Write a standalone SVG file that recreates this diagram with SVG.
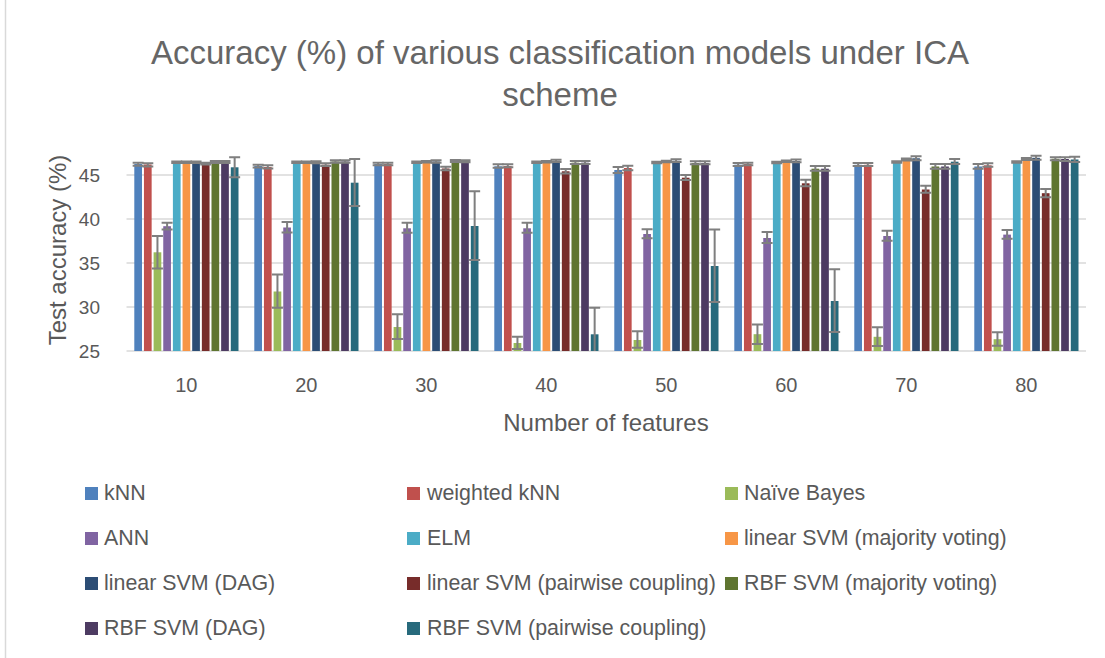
<svg xmlns="http://www.w3.org/2000/svg" width="1105" height="658" viewBox="0 0 1105 658">
  <style>
    text { font-family: "Liberation Sans", Arial, sans-serif; fill: #595959; }
    .title { font-size: 33px; text-anchor: middle; fill: #666666; }
    .tick { font-size: 19px; }
    .ytick { text-anchor: end; }
    .xtick { text-anchor: middle; font-size: 20px; }
    .axis-title { font-size: 24px; text-anchor: middle; }
    .legend { font-size: 21.4px; }
    .grid { stroke: #d9d9d9; stroke-width: 1.5; fill: none; }
    .err { stroke: #7f7f7f; stroke-width: 2; fill: none; }
    .s0 { fill: #4f81bd; }
    .s1 { fill: #c0504d; }
    .s2 { fill: #9bbb59; }
    .s3 { fill: #8064a2; }
    .s4 { fill: #4bacc6; }
    .s5 { fill: #f79646; }
    .s6 { fill: #2c4d75; }
    .s7 { fill: #772c2a; }
    .s8 { fill: #5f7530; }
    .s9 { fill: #4d3b62; }
    .s10 { fill: #276a7c; }
  </style>

  <rect x="0" y="0" width="1105" height="658" fill="#ffffff"/>
  <line x1="5.5" y1="0" x2="5.5" y2="658" stroke="#d9d9d9" stroke-width="1.5"/>

  <!-- chart title -->
  <g id="title">
    <text class="title" x="560" y="64">Accuracy (%) of various classification models under ICA</text>
    <text class="title" x="560" y="106">scheme</text>
  </g>

  <!-- value axis: gridlines and labels (25..45 step 5) -->
  <g id="grid">
    <line class="grid" x1="126.5" y1="175" x2="1086" y2="175"/>
    <line class="grid" x1="126.5" y1="219" x2="1086" y2="219"/>
    <line class="grid" x1="126.5" y1="263" x2="1086" y2="263"/>
    <line class="grid" x1="126.5" y1="307" x2="1086" y2="307"/>
    <line class="grid" x1="126.5" y1="351" x2="1086" y2="351"/>
  </g>
  <g id="y-axis">
    <text class="tick ytick" x="100" y="182">45</text>
    <text class="tick ytick" x="100" y="226">40</text>
    <text class="tick ytick" x="100" y="270">35</text>
    <text class="tick ytick" x="100" y="314">30</text>
    <text class="tick ytick" x="100" y="358">25</text>
    <text class="axis-title" transform="translate(66,250) rotate(-90)">Test accuracy (%)</text>
  </g>

  <!-- category axis -->
  <g id="x-axis">
    <text class="xtick" x="186.3" y="392">10</text>
    <text class="xtick" x="306.3" y="392">20</text>
    <text class="xtick" x="426.3" y="392">30</text>
    <text class="xtick" x="546.3" y="392">40</text>
    <text class="xtick" x="666.3" y="392">50</text>
    <text class="xtick" x="786.3" y="392">60</text>
    <text class="xtick" x="906.3" y="392">70</text>
    <text class="xtick" x="1026.3" y="392">80</text>
    <text class="axis-title" x="606" y="431">Number of features</text>
  </g>

  <!-- clustered bars, one group per feature count; local x is the 10-feature slot -->
  <g id="bars-10">
    <rect class="s0" x="134.3" y="164" width="7.7" height="187"/>
    <rect class="s1" x="143.95" y="164.5" width="7.7" height="186.5"/>
    <rect class="s2" x="153.6" y="252.3" width="7.7" height="98.7"/>
    <rect class="s3" x="163.25" y="226.2" width="7.7" height="124.8"/>
    <rect class="s4" x="172.9" y="162.2" width="7.7" height="188.8"/>
    <rect class="s5" x="182.55" y="162.2" width="7.7" height="188.8"/>
    <rect class="s6" x="192.2" y="162.2" width="7.7" height="188.8"/>
    <rect class="s7" x="201.85" y="163.5" width="7.7" height="187.5"/>
    <rect class="s8" x="211.5" y="162" width="7.7" height="189"/>
    <rect class="s9" x="221.15" y="162" width="7.7" height="189"/>
    <rect class="s10" x="230.8" y="167.3" width="7.7" height="183.7"/>
    <path class="err" d="M138.15 162.8V165.8M132.65 162.8h11M132.65 165.8h11"/>
    <path class="err" d="M147.8 163.3V166.5M142.3 163.3h11M142.3 166.5h11"/>
    <path class="err" d="M157.45 236V268.5M151.95 236h11M151.95 268.5h11"/>
    <path class="err" d="M167.1 222.7V229.5M161.6 222.7h11M161.6 229.5h11"/>
    <path class="err" d="M176.75 161.5V163M171.25 161.5h11M171.25 163h11"/>
    <path class="err" d="M186.4 161.5V163M180.9 161.5h11M180.9 163h11"/>
    <path class="err" d="M196.05 161.5V163M190.55 161.5h11M190.55 163h11"/>
    <path class="err" d="M205.7 162.7V164.5M200.2 162.7h11M200.2 164.5h11"/>
    <path class="err" d="M215.35 161V163M209.85 161h11M209.85 163h11"/>
    <path class="err" d="M225 161V163M219.5 161h11M219.5 163h11"/>
    <path class="err" d="M234.65 157.3V177.3M229.15 157.3h11M229.15 177.3h11"/>
  </g>

  <g id="bars-20" transform="translate(120,0)">
    <rect class="s0" x="134.3" y="166" width="7.7" height="185"/>
    <rect class="s1" x="143.95" y="167" width="7.7" height="184"/>
    <rect class="s2" x="153.6" y="291.5" width="7.7" height="59.5"/>
    <rect class="s3" x="163.25" y="227.5" width="7.7" height="123.5"/>
    <rect class="s4" x="172.9" y="162.3" width="7.7" height="188.7"/>
    <rect class="s5" x="182.55" y="162.3" width="7.7" height="188.7"/>
    <rect class="s6" x="192.2" y="162.3" width="7.7" height="188.7"/>
    <rect class="s7" x="201.85" y="164.7" width="7.7" height="186.3"/>
    <rect class="s8" x="211.5" y="161.5" width="7.7" height="189.5"/>
    <rect class="s9" x="221.15" y="161.5" width="7.7" height="189.5"/>
    <rect class="s10" x="230.8" y="182.7" width="7.7" height="168.3"/>
    <path class="err" d="M138.15 164.7V167.5M132.65 164.7h11M132.65 167.5h11"/>
    <path class="err" d="M147.8 165.3V168.5M142.3 165.3h11M142.3 168.5h11"/>
    <path class="err" d="M157.45 274.5V307.7M151.95 274.5h11M151.95 307.7h11"/>
    <path class="err" d="M167.1 222V232.5M161.6 222h11M161.6 232.5h11"/>
    <path class="err" d="M176.75 161.6V163M171.25 161.6h11M171.25 163h11"/>
    <path class="err" d="M186.4 161.6V163M180.9 161.6h11M180.9 163h11"/>
    <path class="err" d="M196.05 161.3V163.3M190.55 161.3h11M190.55 163.3h11"/>
    <path class="err" d="M205.7 163.3V166M200.2 163.3h11M200.2 166h11"/>
    <path class="err" d="M215.35 160.3V162.7M209.85 160.3h11M209.85 162.7h11"/>
    <path class="err" d="M225 160.3V162.7M219.5 160.3h11M219.5 162.7h11"/>
    <path class="err" d="M234.65 159V206M229.15 159h11M229.15 206h11"/>
  </g>

  <g id="bars-30" transform="translate(240,0)">
    <rect class="s0" x="134.3" y="164" width="7.7" height="187"/>
    <rect class="s1" x="143.95" y="164" width="7.7" height="187"/>
    <rect class="s2" x="153.6" y="327" width="7.7" height="24"/>
    <rect class="s3" x="163.25" y="228.3" width="7.7" height="122.7"/>
    <rect class="s4" x="172.9" y="162.3" width="7.7" height="188.7"/>
    <rect class="s5" x="182.55" y="161.7" width="7.7" height="189.3"/>
    <rect class="s6" x="192.2" y="161.5" width="7.7" height="189.5"/>
    <rect class="s7" x="201.85" y="168.5" width="7.7" height="182.5"/>
    <rect class="s8" x="211.5" y="161" width="7.7" height="190"/>
    <rect class="s9" x="221.15" y="161.3" width="7.7" height="189.7"/>
    <rect class="s10" x="230.8" y="226" width="7.7" height="125"/>
    <path class="err" d="M138.15 162.7V165.3M132.65 162.7h11M132.65 165.3h11"/>
    <path class="err" d="M147.8 162.7V165.3M142.3 162.7h11M142.3 165.3h11"/>
    <path class="err" d="M157.45 314.2V339M151.95 314.2h11M151.95 339h11"/>
    <path class="err" d="M167.1 222.8V232.8M161.6 222.8h11M161.6 232.8h11"/>
    <path class="err" d="M176.75 161.6V163M171.25 161.6h11M171.25 163h11"/>
    <path class="err" d="M186.4 161V162.4M180.9 161h11M180.9 162.4h11"/>
    <path class="err" d="M196.05 160.3V162.7M190.55 160.3h11M190.55 162.7h11"/>
    <path class="err" d="M205.7 166.7V170.2M200.2 166.7h11M200.2 170.2h11"/>
    <path class="err" d="M215.35 160V162M209.85 160h11M209.85 162h11"/>
    <path class="err" d="M225 160.3V162.3M219.5 160.3h11M219.5 162.3h11"/>
    <path class="err" d="M234.65 191.3V260M229.15 191.3h11M229.15 260h11"/>
  </g>

  <g id="bars-40" transform="translate(360,0)">
    <rect class="s0" x="134.3" y="166.3" width="7.7" height="184.7"/>
    <rect class="s1" x="143.95" y="166" width="7.7" height="185"/>
    <rect class="s2" x="153.6" y="343" width="7.7" height="8"/>
    <rect class="s3" x="163.25" y="228.3" width="7.7" height="122.7"/>
    <rect class="s4" x="172.9" y="162.3" width="7.7" height="188.7"/>
    <rect class="s5" x="182.55" y="161.7" width="7.7" height="189.3"/>
    <rect class="s6" x="192.2" y="160.8" width="7.7" height="190.2"/>
    <rect class="s7" x="201.85" y="171.3" width="7.7" height="179.7"/>
    <rect class="s8" x="211.5" y="162.7" width="7.7" height="188.3"/>
    <rect class="s9" x="221.15" y="162.7" width="7.7" height="188.3"/>
    <rect class="s10" x="230.8" y="334.3" width="7.7" height="16.7"/>
    <path class="err" d="M138.15 164.3V167.8M132.65 164.3h11M132.65 167.8h11"/>
    <path class="err" d="M147.8 164.3V167.3M142.3 164.3h11M142.3 167.3h11"/>
    <path class="err" d="M157.45 336.7V349M151.95 336.7h11M151.95 349h11"/>
    <path class="err" d="M167.1 222.8V232.8M161.6 222.8h11M161.6 232.8h11"/>
    <path class="err" d="M176.75 161.6V163M171.25 161.6h11M171.25 163h11"/>
    <path class="err" d="M186.4 161V162.4M180.9 161h11M180.9 162.4h11"/>
    <path class="err" d="M196.05 159.7V162M190.55 159.7h11M190.55 162h11"/>
    <path class="err" d="M205.7 169V173.4M200.2 169h11M200.2 173.4h11"/>
    <path class="err" d="M215.35 161V164M209.85 161h11M209.85 164h11"/>
    <path class="err" d="M225 161V164M219.5 161h11M219.5 164h11"/>
    <path class="err" d="M234.65 307.7V351M229.15 307.7h11"/>
  </g>

  <g id="bars-50" transform="translate(480,0)">
    <rect class="s0" x="134.3" y="170" width="7.7" height="181"/>
    <rect class="s1" x="143.95" y="168" width="7.7" height="183"/>
    <rect class="s2" x="153.6" y="340" width="7.7" height="11"/>
    <rect class="s3" x="163.25" y="234" width="7.7" height="117"/>
    <rect class="s4" x="172.9" y="162.5" width="7.7" height="188.5"/>
    <rect class="s5" x="182.55" y="161.5" width="7.7" height="189.5"/>
    <rect class="s6" x="192.2" y="160.8" width="7.7" height="190.2"/>
    <rect class="s7" x="201.85" y="177.7" width="7.7" height="173.3"/>
    <rect class="s8" x="211.5" y="163" width="7.7" height="188"/>
    <rect class="s9" x="221.15" y="163" width="7.7" height="188"/>
    <rect class="s10" x="230.8" y="266" width="7.7" height="85"/>
    <path class="err" d="M138.15 167V173M132.65 167h11M132.65 173h11"/>
    <path class="err" d="M147.8 165.7V170.3M142.3 165.7h11M142.3 170.3h11"/>
    <path class="err" d="M157.45 331.2V347.7M151.95 331.2h11M151.95 347.7h11"/>
    <path class="err" d="M167.1 229.3V238.3M161.6 229.3h11M161.6 238.3h11"/>
    <path class="err" d="M176.75 161.8V163.2M171.25 161.8h11M171.25 163.2h11"/>
    <path class="err" d="M186.4 160.8V162.2M180.9 160.8h11M180.9 162.2h11"/>
    <path class="err" d="M196.05 159.3V162M190.55 159.3h11M190.55 162h11"/>
    <path class="err" d="M205.7 175V180M200.2 175h11M200.2 180h11"/>
    <path class="err" d="M215.35 161.3V164.3M209.85 161.3h11M209.85 164.3h11"/>
    <path class="err" d="M225 161.3V164.3M219.5 161.3h11M219.5 164.3h11"/>
    <path class="err" d="M234.65 229.5V302M229.15 229.5h11M229.15 302h11"/>
  </g>

  <g id="bars-60" transform="translate(600,0)">
    <rect class="s0" x="134.3" y="164.7" width="7.7" height="186.3"/>
    <rect class="s1" x="143.95" y="164" width="7.7" height="187"/>
    <rect class="s2" x="153.6" y="334.2" width="7.7" height="16.8"/>
    <rect class="s3" x="163.25" y="238" width="7.7" height="113"/>
    <rect class="s4" x="172.9" y="162.5" width="7.7" height="188.5"/>
    <rect class="s5" x="182.55" y="161.2" width="7.7" height="189.8"/>
    <rect class="s6" x="192.2" y="161" width="7.7" height="190"/>
    <rect class="s7" x="201.85" y="183.3" width="7.7" height="167.7"/>
    <rect class="s8" x="211.5" y="168.7" width="7.7" height="182.3"/>
    <rect class="s9" x="221.15" y="168.7" width="7.7" height="182.3"/>
    <rect class="s10" x="230.8" y="301" width="7.7" height="50"/>
    <path class="err" d="M138.15 163V166M132.65 163h11M132.65 166h11"/>
    <path class="err" d="M147.8 162.7V165.3M142.3 162.7h11M142.3 165.3h11"/>
    <path class="err" d="M157.45 324.5V344M151.95 324.5h11M151.95 344h11"/>
    <path class="err" d="M167.1 232V243M161.6 232h11M161.6 243h11"/>
    <path class="err" d="M176.75 161.8V163.2M171.25 161.8h11M171.25 163.2h11"/>
    <path class="err" d="M186.4 160.5V161.9M180.9 160.5h11M180.9 161.9h11"/>
    <path class="err" d="M196.05 159.5V162.3M190.55 159.5h11M190.55 162.3h11"/>
    <path class="err" d="M205.7 179.8V186.3M200.2 179.8h11M200.2 186.3h11"/>
    <path class="err" d="M215.35 166V170.7M209.85 166h11M209.85 170.7h11"/>
    <path class="err" d="M225 166V170.7M219.5 166h11M219.5 170.7h11"/>
    <path class="err" d="M234.65 269.3V332M229.15 269.3h11M229.15 332h11"/>
  </g>

  <g id="bars-70" transform="translate(720,0)">
    <rect class="s0" x="134.3" y="164.8" width="7.7" height="186.2"/>
    <rect class="s1" x="143.95" y="164.8" width="7.7" height="186.2"/>
    <rect class="s2" x="153.6" y="336.8" width="7.7" height="14.2"/>
    <rect class="s3" x="163.25" y="236" width="7.7" height="115"/>
    <rect class="s4" x="172.9" y="162" width="7.7" height="189"/>
    <rect class="s5" x="182.55" y="159.5" width="7.7" height="191.5"/>
    <rect class="s6" x="192.2" y="158.3" width="7.7" height="192.7"/>
    <rect class="s7" x="201.85" y="189.5" width="7.7" height="161.5"/>
    <rect class="s8" x="211.5" y="166.5" width="7.7" height="184.5"/>
    <rect class="s9" x="221.15" y="166.5" width="7.7" height="184.5"/>
    <rect class="s10" x="230.8" y="161.7" width="7.7" height="189.3"/>
    <path class="err" d="M138.15 162.9V166M132.65 162.9h11M132.65 166h11"/>
    <path class="err" d="M147.8 163V166M142.3 163h11M142.3 166h11"/>
    <path class="err" d="M157.45 327.3V346M151.95 327.3h11M151.95 346h11"/>
    <path class="err" d="M167.1 230.8V240.7M161.6 230.8h11M161.6 240.7h11"/>
    <path class="err" d="M176.75 161.3V162.7M171.25 161.3h11M171.25 162.7h11"/>
    <path class="err" d="M186.4 158.5V160.5M180.9 158.5h11M180.9 160.5h11"/>
    <path class="err" d="M196.05 156.2V160.2M190.55 156.2h11M190.55 160.2h11"/>
    <path class="err" d="M205.7 185.7V192.7M200.2 185.7h11M200.2 192.7h11"/>
    <path class="err" d="M215.35 164V168.7M209.85 164h11M209.85 168.7h11"/>
    <path class="err" d="M225 164V168.7M219.5 164h11M219.5 168.7h11"/>
    <path class="err" d="M234.65 159V164M229.15 159h11M229.15 164h11"/>
  </g>

  <g id="bars-80" transform="translate(840,0)">
    <rect class="s0" x="134.3" y="166.5" width="7.7" height="184.5"/>
    <rect class="s1" x="143.95" y="165.3" width="7.7" height="185.7"/>
    <rect class="s2" x="153.6" y="339.2" width="7.7" height="11.8"/>
    <rect class="s3" x="163.25" y="234.6" width="7.7" height="116.4"/>
    <rect class="s4" x="172.9" y="162" width="7.7" height="189"/>
    <rect class="s5" x="182.55" y="159" width="7.7" height="192"/>
    <rect class="s6" x="192.2" y="157.8" width="7.7" height="193.2"/>
    <rect class="s7" x="201.85" y="193.2" width="7.7" height="157.8"/>
    <rect class="s8" x="211.5" y="158.8" width="7.7" height="192.2"/>
    <rect class="s9" x="221.15" y="159" width="7.7" height="192"/>
    <rect class="s10" x="230.8" y="159.5" width="7.7" height="191.5"/>
    <path class="err" d="M138.15 164V168.7M132.65 164h11M132.65 168.7h11"/>
    <path class="err" d="M147.8 163.3V166.7M142.3 163.3h11M142.3 166.7h11"/>
    <path class="err" d="M157.45 332.3V345.8M151.95 332.3h11M151.95 345.8h11"/>
    <path class="err" d="M167.1 230V238.8M161.6 230h11M161.6 238.8h11"/>
    <path class="err" d="M176.75 161.3V162.7M171.25 161.3h11M171.25 162.7h11"/>
    <path class="err" d="M186.4 158V160M180.9 158h11M180.9 160h11"/>
    <path class="err" d="M196.05 155.7V159.7M190.55 155.7h11M190.55 159.7h11"/>
    <path class="err" d="M205.7 189V197.3M200.2 189h11M200.2 197.3h11"/>
    <path class="err" d="M215.35 157.3V160.3M209.85 157.3h11M209.85 160.3h11"/>
    <path class="err" d="M225 157.3V161M219.5 157.3h11M219.5 161h11"/>
    <path class="err" d="M234.65 156.7V162M229.15 156.7h11M229.15 162h11"/>
  </g>

  <!-- legend, three columns -->
  <g id="legend">
    <rect class="s0" x="85" y="487" width="13" height="13"/>
    <text class="legend" x="104" y="500">kNN</text>
    <rect class="s1" x="407" y="487" width="13" height="13"/>
    <text class="legend" x="427" y="500">weighted kNN</text>
    <rect class="s2" x="725" y="487" width="13" height="13"/>
    <text class="legend" x="744" y="500">Naïve Bayes</text>

    <rect class="s3" x="85" y="532" width="13" height="13"/>
    <text class="legend" x="104" y="545">ANN</text>
    <rect class="s4" x="407" y="532" width="13" height="13"/>
    <text class="legend" x="427" y="545">ELM</text>
    <rect class="s5" x="725" y="532" width="13" height="13"/>
    <text class="legend" x="744" y="545">linear SVM (majority voting)</text>

    <rect class="s6" x="85" y="577" width="13" height="13"/>
    <text class="legend" x="104" y="590">linear SVM (DAG)</text>
    <rect class="s7" x="407" y="577" width="13" height="13"/>
    <text class="legend" x="427" y="590">linear SVM (pairwise coupling)</text>
    <rect class="s8" x="725" y="577" width="13" height="13"/>
    <text class="legend" x="744" y="590">RBF SVM (majority voting)</text>

    <rect class="s9" x="85" y="622" width="13" height="13"/>
    <text class="legend" x="104" y="635">RBF SVM (DAG)</text>
    <rect class="s10" x="407" y="622" width="13" height="13"/>
    <text class="legend" x="427" y="635">RBF SVM (pairwise coupling)</text>
  </g>
</svg>
